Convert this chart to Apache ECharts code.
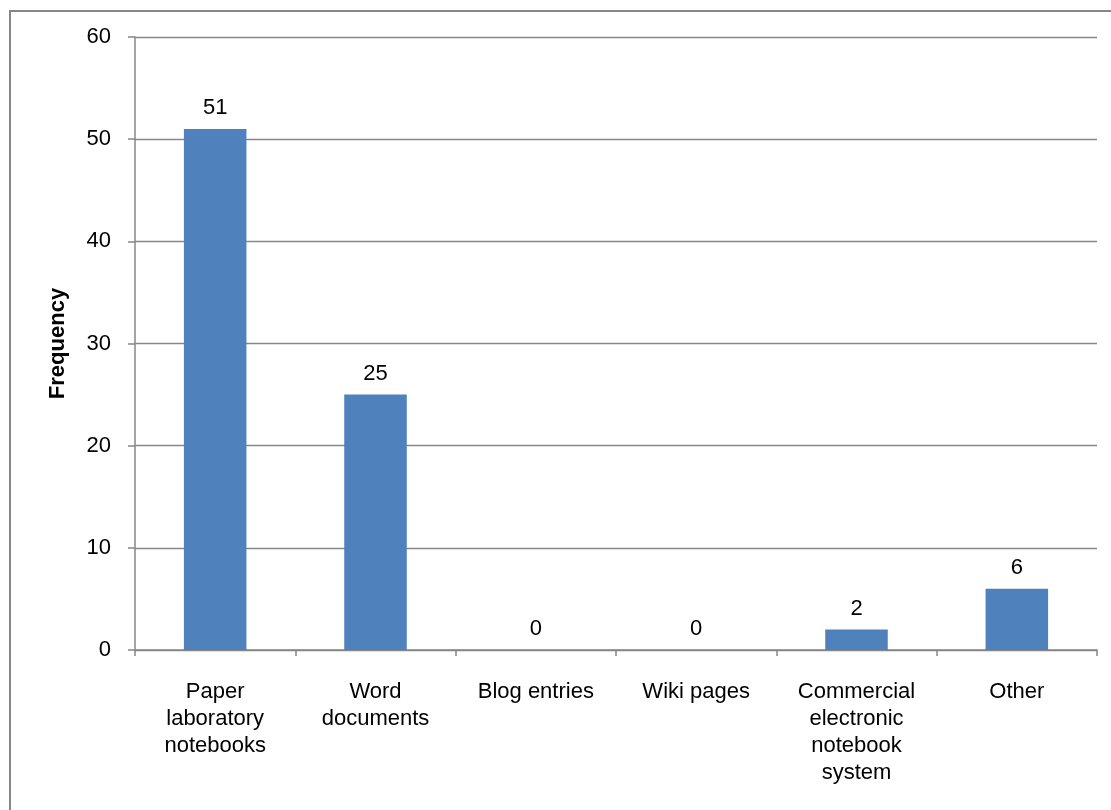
<!DOCTYPE html>
<html>
<head>
<meta charset="utf-8">
<script src="https://cdn.jsdelivr.net/npm/echarts@6/dist/echarts.min.js"></script>
<style>
  html, body { margin: 0; padding: 0; background: #fff; }
  #chart { width: 1111px; height: 810px; }
</style>
</head>
<body>
<div id="chart"></div>
<script>
// Record-keeping methods and how many respondents use each
const categories = [
  'Paper\nlaboratory\nnotebooks',
  'Word\ndocuments',
  'Blog entries',
  'Wiki pages',
  'Commercial\nelectronic\nnotebook\nsystem',
  'Other'
];
const frequencies = [51, 25, 0, 0, 2, 6];
const yTicks = { min: 0, max: 60, interval: 10 };

const axisGray = '#878787';
const font = 'Liberation Sans, Arial, sans-serif';
const fontSize = 22;

const chart = echarts.init(document.getElementById('chart'));
chart.setOption({
  animation: false,
  graphic: [{
    type: 'rect',
    shape: { x: 10, y: 11, width: 1200, height: 900 },
    style: { fill: 'none', stroke: axisGray, lineWidth: 2 },
    silent: true
  }],
  grid: { left: 135, right: 14, top: 37, bottom: 160, containLabel: false },
  xAxis: {
    type: 'category',
    data: categories,
    boundaryGap: true,
    axisLine: { lineStyle: { color: axisGray, width: 1.5 } },
    axisTick: { show: true, length: 6, alignWithLabel: false, lineStyle: { color: axisGray, width: 1.5 } },
    axisLabel: {
      interval: 0,
      margin: 28,
      color: '#000',
      fontFamily: font,
      fontSize: fontSize,
      lineHeight: 27
    }
  },
  yAxis: {
    type: 'value',
    min: yTicks.min,
    max: yTicks.max,
    interval: yTicks.interval,
    name: 'Frequency',
    nameLocation: 'middle',
    nameGap: 66,
    nameTextStyle: { color: '#000', fontFamily: font, fontSize: fontSize, fontWeight: 'bold' },
    axisLine: { show: true, lineStyle: { color: axisGray, width: 1.5 } },
    axisTick: { show: true, length: 7, lineStyle: { color: axisGray, width: 1.5 } },
    axisLabel: { color: '#000', fontFamily: font, fontSize: fontSize, margin: 24 },
    splitLine: { show: true, lineStyle: { color: axisGray, width: 1.3 } }
  },
  series: [{
    type: 'bar',
    data: frequencies,
    barWidth: '39%',
    itemStyle: { color: '#4F81BD' },
    label: {
      show: true,
      position: 'top',
      distance: 10,
      color: '#000',
      fontFamily: font,
      fontSize: fontSize
    }
  }]
});
</script>
</body>
</html>
